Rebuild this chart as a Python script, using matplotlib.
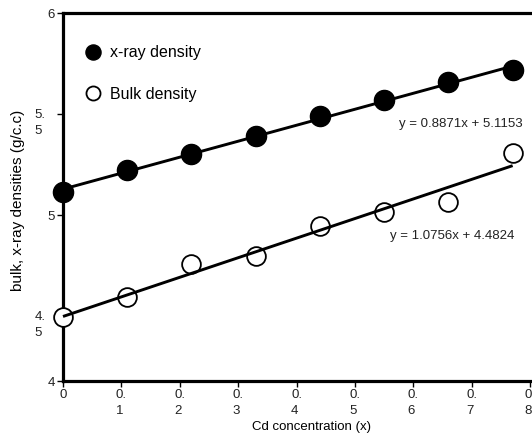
import numpy as np
import matplotlib
matplotlib.use("Agg")
import matplotlib.pyplot as plt
from matplotlib.ticker import FixedLocator
from matplotlib.transforms import ScaledTranslation

plt.rcParams['font.family'] = ['Liberation Sans', 'DejaVu Sans']

# values
cd_x = [0.0, 0.11, 0.22, 0.33, 0.44, 0.55, 0.66, 0.77]
xray_density = [5.114, 5.223, 5.302, 5.391, 5.490, 5.569, 5.658, 5.718]
bulk_density = [4.495, 4.594, 4.757, 4.797, 4.946, 5.015, 5.064, 5.307]

xticks = [0, 0.1, 0.2, 0.3, 0.4, 0.5, 0.6, 0.7, 0.8]
xtick_labels = ['0', '0.\n1', '0.\n2', '0.\n3', '0.\n4', '0.\n5', '0.\n6', '0.\n7', '0.\n8']
yticks = [4, 4.5, 5, 5.5, 6]
ytick_labels = ['4', '4.\n5', '5', '5.\n5', '6']
xray_eq = "y = 0.8871x + 5.1153"
bulk_eq = "y = 1.0756x + 4.4824"


# the source axis is squeezed below 4.5
def fwd(y):
    y = np.asarray(y, dtype=float)
    return np.where(y >= 4.5, y, 4.5 - (4.5 - y) * 0.64)


def inv(t):
    t = np.asarray(t, dtype=float)
    return np.where(t >= 4.5, t, 4.5 - (4.5 - t) / 0.64)


fig = plt.figure(figsize=(5.32, 4.34), dpi=100)
ax = fig.add_axes([63 / 532, 53 / 434, 473 / 532, 368 / 434])
ax.set_yscale('function', functions=(fwd, inv))

ax.plot(cd_x, xray_density, 'o', color='black', markersize=14.5,
        label='x-ray density', zorder=3, clip_on=False)
ax.plot(cd_x, bulk_density, 'o', markerfacecolor='white', markeredgecolor='black',
        markersize=13.5, markeredgewidth=1.3, label='Bulk density', zorder=3,
        clip_on=False)

# linear trendlines over the data range
xs = np.array([cd_x[0], cd_x[-1]])
for yv in (xray_density, bulk_density):
    k, b = np.polyfit(cd_x, yv, 1)
    ax.plot(xs, k * xs + b, color='black', lw=2.1, zorder=4, solid_capstyle='butt',
            clip_on=False)

ax.set_xlim(0, 0.81)
ax.set_ylim(4, 6)
ax.xaxis.set_major_locator(FixedLocator(xticks))
ax.yaxis.set_major_locator(FixedLocator(yticks))
ax.yaxis.set_minor_locator(FixedLocator([]))
ax.set_xticklabels(xtick_labels, fontsize=9.5, color='#222222',
                   multialignment='left', linespacing=1.45)
ax.set_yticklabels(ytick_labels, fontsize=9.5, color='#222222',
                   multialignment='left', linespacing=1.45)
ax.tick_params(direction='out', length=4, width=1, color='black', pad=2)

# two-line y labels sit a little lower and further left in the source
shift = ScaledTranslation(-9 / 100, -5 / 100, fig.dpi_scale_trans)
for lab in ax.get_yticklabels():
    if '\n' in lab.get_text():
        lab.set_transform(lab.get_transform() + shift)

for side in ['left', 'top', 'bottom']:
    ax.spines[side].set_linewidth(2.3)
ax.spines['right'].set_visible(False)

ax.set_xlabel('Cd concentration (x)', fontsize=9.5)
ax.xaxis.set_label_coords((312 - 63) / 473, -0.108)
ax.set_ylabel('bulk, x-ray densities (g/c.c)', fontsize=11)
ax.yaxis.set_label_coords(-(63 - 25) / 473, 0.49)

ax.text(0.9725, 0.698, xray_eq, transform=ax.transAxes, ha='right', va='center',
        fontsize=9.5, color='#222222')
ax.text(0.954, 0.395, bulk_eq, transform=ax.transAxes, ha='right', va='center',
        fontsize=9.5, color='#222222')

ax.legend(loc='upper left', bbox_to_anchor=(0.03, 0.93), frameon=False,
          markerscale=0.75, fontsize=11.5, labelspacing=1.65, handletextpad=0.45,
          borderaxespad=0.0, handlelength=1.2)

fig.savefig('out.png', dpi=100)
